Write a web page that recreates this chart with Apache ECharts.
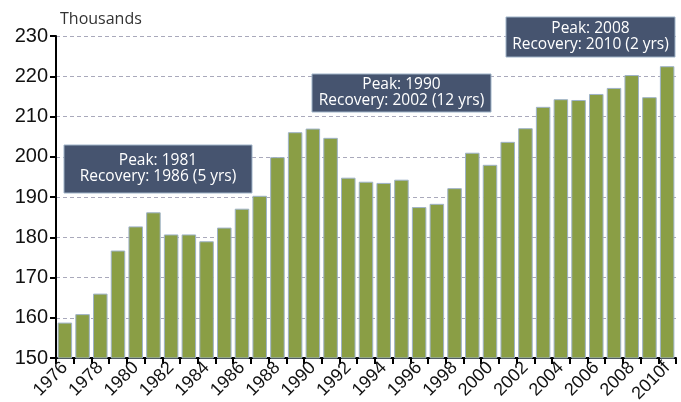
<!DOCTYPE html>
<html>
<head>
<meta charset="utf-8">
<script src="https://cdn.jsdelivr.net/npm/echarts@6/dist/echarts.min.js"></script>
<style>
  html, body { margin: 0; padding: 0; background: #fff; }
  #chart { width: 681px; height: 402px; }
</style>
</head>
<body>
<div id="chart"></div>
<script>
// 数据
var years = ['1976','1977','1978','1979','1980','1981','1982','1983','1984','1985',
  '1986','1987','1988','1989','1990','1991','1992','1993','1994','1995',
  '1996','1997','1998','1999','2000','2001','2002','2003','2004','2005',
  '2006','2007','2008','2009','2010f']
var values = [158.8, 160.9, 166.0, 176.7, 182.7, 186.2, 180.7, 180.7, 179.0, 182.4,
  187.1, 190.3, 199.9, 206.1, 207.0, 204.7, 194.8, 193.8, 193.5, 194.3,
  187.5, 188.3, 192.2, 201.0, 198.0, 203.7, 207.1, 212.4, 214.3, 214.1,
  215.6, 217.1, 220.3, 214.8, 222.5]
var notes = [
  ['Peak: 1981', 'Recovery: 1986 (5 yrs)'],
  ['Peak: 1990', 'Recovery: 2002 (12 yrs)'],
  ['Peak: 2008', 'Recovery: 2010 (2 yrs)']
]

// 注释框
function noteBox(lines, x, y, w, h) {
  return [
    { type: 'rect', z: 100, shape: { x: x, y: y, width: w, height: h },
      style: { fill: '#46546f', stroke: '#9fb3c8', lineWidth: 1 } },
    { type: 'text', z: 101,
      style: { x: x + w / 2, y: y + h / 2, text: lines.join('\n'), fill: '#fff',
        align: 'center', verticalAlign: 'middle',
        font: '15.5px "Open Sans"', lineHeight: 16 } }
  ]
}

var chart = echarts.init(document.getElementById('chart'))
chart.setOption({
  animation: false,
  title: {
    text: 'Thousands', left: 55, top: 6,
    textStyle: { fontFamily: 'Open Sans', fontWeight: 'normal', fontSize: 16, color: '#333' }
  },
  grid: { left: 56, right: 5, top: 36, bottom: 44, outerBoundsMode: 'none', containLabel: false },
  xAxis: {
    type: 'category',
    data: years,
    axisLine: { lineStyle: { color: '#000', width: 2 } },
    axisTick: { show: true, interval: 0, length: 6, lineStyle: { color: '#000', width: 2 } },
    axisLabel: {
      interval: 1, rotate: 45, margin: 7,
      fontFamily: 'Liberation Sans', fontSize: 18, color: '#111'
    }
  },
  yAxis: {
    type: 'value',
    min: 150, max: 230, interval: 10,
    axisLine: { show: true, lineStyle: { color: '#000', width: 2 } },
    axisTick: { show: true, length: 6, lineStyle: { color: '#000', width: 2 } },
    axisLabel: { fontFamily: 'Liberation Sans', fontSize: 20, color: '#111', margin: 8 },
    splitLine: { lineStyle: { color: '#a9a9bb', type: [4, 3] } }
  },
  series: [{
    type: 'bar',
    data: values,
    barCategoryGap: '18%',
    itemStyle: { color: '#8a9e45', borderColor: '#9fb3c8', borderWidth: 1 }
  }],
  graphic: [].concat(
    noteBox(notes[0], 64, 145, 188, 48),
    noteBox(notes[1], 312, 74, 179, 38),
    noteBox(notes[2], 506, 17, 169, 40)
  )
})
</script>
</body>
</html>
